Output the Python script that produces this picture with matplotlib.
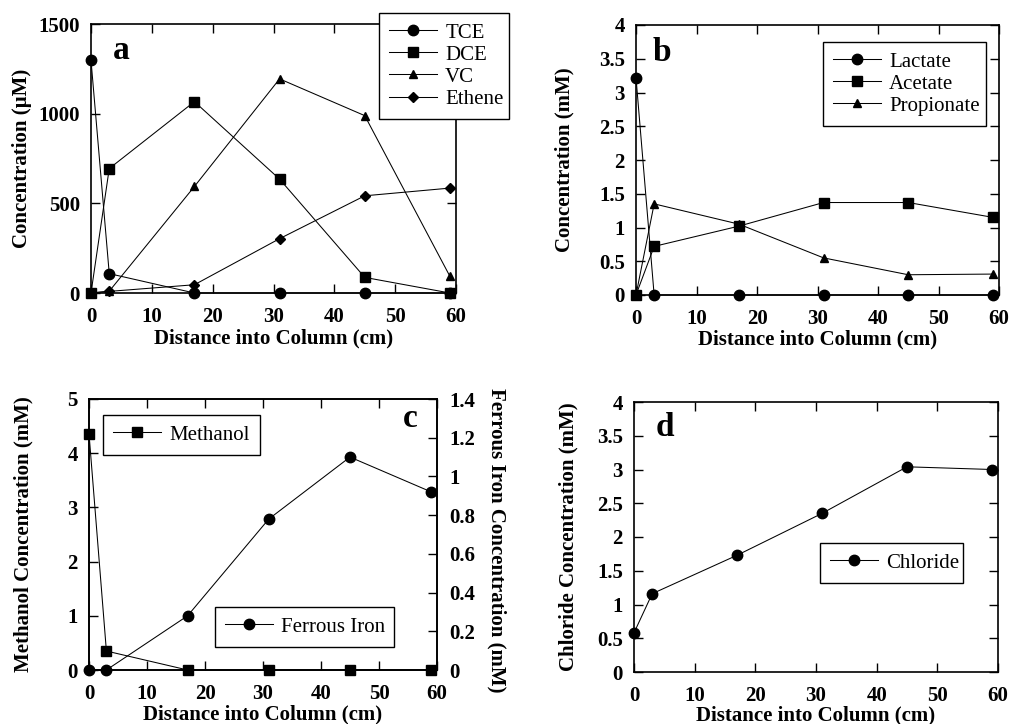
import matplotlib
matplotlib.use("Agg")
import matplotlib.pyplot as plt

plt.rcParams["font.family"] = ["Liberation Serif", "DejaVu Serif"]

distance = [0, 3, 17, 31, 45, 59]

tce = [1298, 108, 0, 0, 0, 0]
dce = [0, 694, 1067, 635, 87, 0]
vc = [0, 10, 594, 1194, 989, 93]
ethene = [0, 9, 46, 303, 542, 585]

lactate = [3.22, 0, 0, 0, 0, 0]
acetate = [0, 0.72, 1.02, 1.37, 1.37, 1.15]
propionate = [0, 1.35, 1.05, 0.55, 0.30, 0.31]

methanol = [4.36, 0.35, 0, 0, 0, 0]
ferrous_iron = [0, 0, 0.28, 0.78, 1.10, 0.92]

chloride = [0.58, 1.16, 1.73, 2.35, 3.04, 3.00]

half_ticks = [0, 0.5, 1, 1.5, 2, 2.5, 3, 3.5, 4]
half_labels = ["0", "0.5", "1", "1.5", "2", "2.5", "3", "3.5", "4"]

W, H = 1009, 724
TICK_FS = 15
LABEL_FS = 15
LEG_FS = 15


def px_axes(fig, left, top, right, bottom):
    return fig.add_axes([left / W, 1 - bottom / H, (right - left) / W, (bottom - top) / H])


def bold_ticks(ax):
    for lab in ax.get_xticklabels() + ax.get_yticklabels():
        lab.set_fontweight("bold")


def style_axes(ax, yticks, ylabels=None):
    ax.set_xlim(0, 60)
    ax.set_xticks(range(0, 61, 10))
    ax.set_yticks(yticks)
    if ylabels:
        ax.set_yticklabels(ylabels)
    ax.set_ylim(yticks[0], yticks[-1])
    ax.tick_params(direction="in", top=True, right=True, length=6.5, width=1,
                   labelsize=TICK_FS)
    ax.tick_params(axis="x", pad=10)
    ax.tick_params(axis="y", pad=8)
    bold_ticks(ax)
    for sp in ax.spines.values():
        sp.set_linewidth(1.2)


def labels(fig, ylabel, ylab_x, axes_px, xlab_y):
    left, top, right, bottom = axes_px
    fig.text(ylab_x / W, 1 - (top + bottom) / 2 / H, ylabel, rotation=90,
             ha="center", va="center", fontsize=LABEL_FS, fontweight="bold")
    fig.text((left + right) / 2 / W, 1 - xlab_y / H, "Distance into Column (cm)",
             ha="center", va="baseline", fontsize=LABEL_FS, fontweight="bold")


def series(ax, y, marker, label, ms=7.5):
    return ax.plot(distance, y, color="black", lw=0.75, marker=marker, ms=ms,
                   label=label, clip_on=False, zorder=3)[0]


def legend_box(ax, handles, fig, left, top, right):
    leg = ax.legend(handles=handles, loc="upper left",
                    bbox_to_anchor=(left / W, 1 - top / H, (right - left) / W, 0),
                    bbox_transform=fig.transFigure, mode="expand", fontsize=LEG_FS,
                    frameon=True, fancybox=False, edgecolor="black", framealpha=1,
                    handlelength=2.3, handletextpad=0.4, borderpad=0.48,
                    labelspacing=0.12, borderaxespad=0)
    leg.get_frame().set_linewidth(1)
    leg.set_zorder(6)
    return leg


fig = plt.figure(figsize=(W / 100, H / 100), dpi=100)

# panel a
pa = (91, 24, 456, 293)
ax = px_axes(fig, *pa)
h = [series(ax, tce, "o", "TCE"), series(ax, dce, "s", "DCE"),
     series(ax, vc, "^", "VC", ms=6), series(ax, ethene, "D", "Ethene", ms=5.5)]
style_axes(ax, [0, 500, 1000, 1500])
labels(fig, "Concentration (\u00b5M)", 22, pa, 343)
ax.text(0.082, 0.87, "a", transform=ax.transAxes, fontsize=24, fontweight="bold",
        ha="center", va="baseline")
legend_box(ax, h, fig, 379, 13, 509)

# panel b
pb = (636, 25, 999, 295)
ax = px_axes(fig, *pb)
h = [series(ax, lactate, "o", "Lactate"), series(ax, acetate, "s", "Acetate"),
     series(ax, propionate, "^", "Propionate", ms=6)]
style_axes(ax, half_ticks, half_labels)
labels(fig, "Concentration (mM)", 564, pb, 344)
ax.text(0.072, 0.867, "b", transform=ax.transAxes, fontsize=24, fontweight="bold",
        ha="center", va="baseline")
legend_box(ax, h, fig, 823, 42, 986)

# panel c
pc = (89, 399, 437, 670)
ax = px_axes(fig, *pc)
hm = series(ax, methanol, "s", "Methanol")
style_axes(ax, [0, 1, 2, 3, 4, 5])
ax.tick_params(right=False)
ax2 = ax.twinx()
hf = series(ax2, ferrous_iron, "o", "Ferrous Iron")
ax2.set_ylim(0, 1.4)
ax2.set_yticks([0, 0.2, 0.4, 0.6, 0.8, 1, 1.2, 1.4])
ax2.set_yticklabels(["0", "0.2", "0.4", "0.6", "0.8", "1", "1.2", "1.4"])
ax2.tick_params(direction="in", length=6.5, width=1, labelsize=TICK_FS, pad=9)
bold_ticks(ax2)
for sp in ax2.spines.values():
    sp.set_linewidth(1.2)
labels(fig, "Methanol Concentration (mM)", 23, pc, 719)
fig.text(497 / W, 1 - 540 / H, "Ferrous Iron Concentration (mM)", rotation=-90,
         ha="center", va="center", fontsize=LABEL_FS, fontweight="bold")
ax.text(0.922, 0.897, "c", transform=ax.transAxes, fontsize=24, fontweight="bold",
        ha="center", va="baseline")
leg_m = legend_box(ax2, [hm], fig, 103, 415, 260)
ax2.add_artist(leg_m)
legend_box(ax2, [hf], fig, 215, 607, 394)

# panel d
pd_ = (634, 402, 998, 672)
ax = px_axes(fig, *pd_)
h = [series(ax, chloride, "o", "Chloride")]
style_axes(ax, half_ticks, half_labels)
labels(fig, "Chloride Concentration (mM)", 568, pd_, 720)
ax.text(0.085, 0.874, "d", transform=ax.transAxes, fontsize=24, fontweight="bold",
        ha="center", va="baseline")
legend_box(ax, h, fig, 820, 543, 963)

fig.savefig("out.png", dpi=100)
